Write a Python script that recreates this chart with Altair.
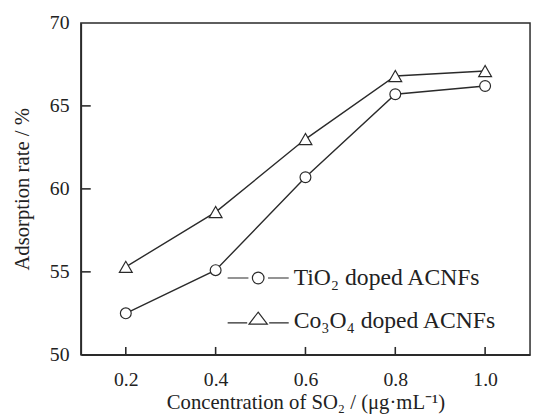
import altair as alt
import pandas as pd

conc = [0.2, 0.4, 0.6, 0.8, 1.0]
tio2 = [52.5, 55.1, 60.7, 65.7, 66.2]
co3o4 = [55.3, 58.6, 63.0, 66.8, 67.1]
series_names = ["TiO₂ doped ACNFs", "Co₃O₄ doped ACNFs"]
x_ticks = [0.2, 0.4, 0.6, 0.8, 1.0]
y_ticks = [50, 55, 60, 65, 70]

FONT = "Liberation Serif"
INK = "#2a2a2a"

df = pd.DataFrame({
    "conc": conc * 2,
    "rate": tio2 + co3o4,
    "series": [series_names[0]] * len(conc) + [series_names[1]] * len(conc),
})

x_enc = alt.X("conc:Q", scale=alt.Scale(domain=[0.1, 1.1], nice=False, zero=False),
              axis=alt.Axis(values=x_ticks, format=".1f", title="Concentration of SO₂ / (μg·mL⁻¹)",
                            labelPadding=15, titlePadding=2))
y_enc = alt.Y("rate:Q", scale=alt.Scale(domain=[50, 70], nice=False, zero=False),
              axis=alt.Axis(values=y_ticks, title="Adsorption rate / %", labelPadding=12, titlePadding=17))

ytick_df = pd.DataFrame({"rate": y_ticks[1:-1]})
xtick_df = pd.DataFrame({"conc": x_ticks})
yticks = alt.Chart(ytick_df).mark_rule(color=INK, strokeWidth=1.6).encode(
    y="rate:Q", x=alt.value(0), x2=alt.value(10))
xticks = alt.Chart(xtick_df).mark_rule(color=INK, strokeWidth=1.6).encode(
    x="conc:Q", y=alt.value(337), y2=alt.value(329))

base = alt.Chart(df)
lines = base.mark_line(color=INK, strokeWidth=1.4).encode(x=x_enc, y=y_enc, detail="series:N")

circles = base.transform_filter(alt.datum.series == series_names[0]).mark_point(
    shape="circle", size=121, filled=True, fill="white", stroke=INK, strokeWidth=1.2, opacity=1
).encode(x="conc:Q", y="rate:Q")
triangles = base.transform_filter(alt.datum.series == series_names[1]).mark_point(
    shape="triangle-up", size=170, filled=True, fill="white", stroke=INK, strokeWidth=1.2, opacity=1
).encode(x="conc:Q", y="rate:Q")

circle_path = "M-0.19,0A0.19,0.19,0,1,1,0.19,0A0.19,0.19,0,1,1,-0.19,0Z M-1,0H-0.32 M0.32,0H1"
tri_path = "M0,-0.3L0.3,0.09L-0.3,0.09Z M-1,0.05H-0.36 M0.36,0.05H1"

legend_layer = base.transform_filter("false").mark_point(
    filled=False, stroke=INK, strokeWidth=1.2
).encode(
    x="conc:Q", y="rate:Q",
    shape=alt.Shape("series:N",
                    scale=alt.Scale(domain=series_names, range=[circle_path, tri_path]),
                    legend=alt.Legend(title=None, orient="none", legendX=148, legendY=227,
                                      symbolSize=3844, symbolStrokeColor=INK, symbolStrokeWidth=1.2,
                                      symbolFillColor="transparent", symbolOpacity=1,
                                      labelFont=FONT, labelFontSize=24, labelColor="#222",
                                      labelLimit=0, labelOffset=4, rowPadding=-3)),
)

chart = alt.layer(lines, yticks, xticks, circles, triangles, legend_layer).properties(
    width=456, height=337,
    autosize=alt.AutoSizeParams(type="none"),
    padding={"left": 74, "top": 12, "right": 2, "bottom": 62},
).configure_view(stroke=INK, strokeWidth=1.5).configure_axis(
    grid=False, ticks=False, tickSize=0, domainColor=INK, domainWidth=1.5,
    labelFont=FONT, labelFontSize=20, labelColor="#222",
    titleFont=FONT, titleFontSize=21, titleFontWeight="normal", titleColor="#222",
)

chart.save("out.html", embed_options={"renderer": "svg", "actions": False})
